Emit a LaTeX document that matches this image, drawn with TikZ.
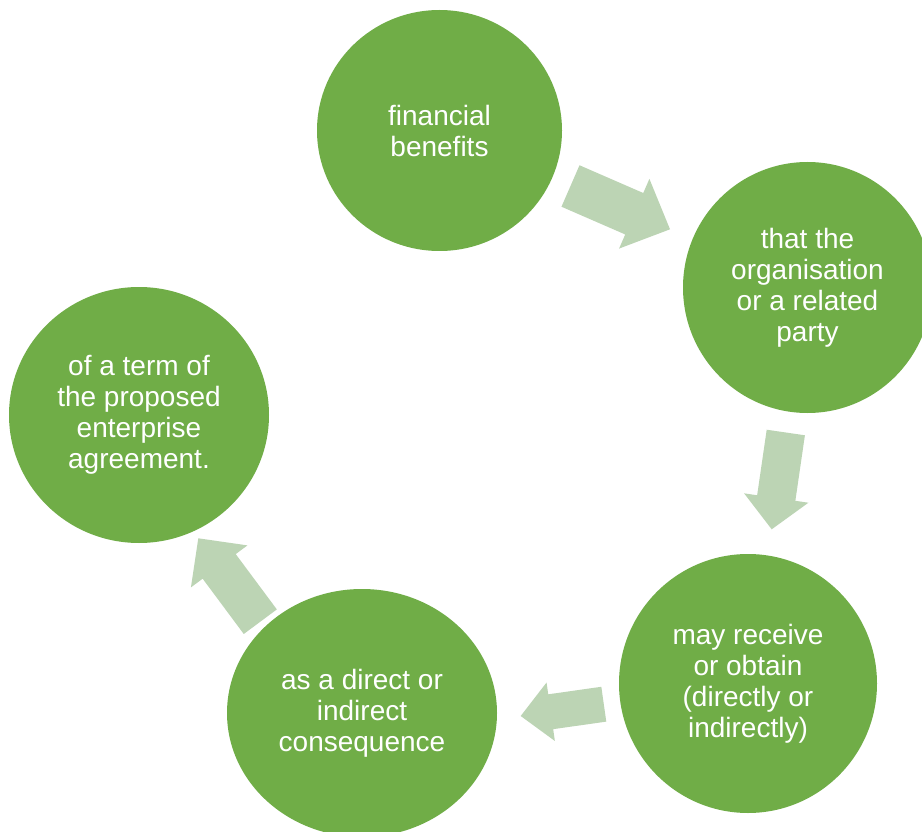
\documentclass[tikz,border=0pt]{standalone}
\usepackage{fontspec}
\setmainfont{Liberation Sans}
\usetikzlibrary{calc,shapes.geometric}
\definecolor{circgreen}{HTML}{70AD47}
\definecolor{arrgreen}{HTML}{BCD4B4}
\tikzset{
  circ/.style={ellipse, fill=circgreen, draw=none, inner sep=0pt, text=white,
    align=center, font=\fontsize{28}{31}\selectfont},
  arrowfill/.style={fill=arrgreen, draw=none}
}
% #1 tail, #2 tip, #3 half shaft width, #4 half head width, #5 head length
\newcommand\blockarrow[5]{%
  \coordinate (#1hb) at ($(#2)!#5pt!(#1)$);
  \fill[arrowfill] ($(#1)!#3pt!90:(#2)$) -- ($(#1hb)!#3pt!90:(#2)$)
    -- ($(#1hb)!#4pt!90:(#2)$) -- (#2) -- ($(#1hb)!#4pt!-90:(#2)$)
    -- ($(#1hb)!#3pt!-90:(#2)$) -- ($(#1)!#3pt!-90:(#2)$) -- cycle;
}
\begin{document}
\begin{tikzpicture}[x=1pt,y=-1pt]
\useasboundingbox (0,0) rectangle (922,832);
\clip (0,0) rectangle (922,832);
\fill[white] (0,0) rectangle (922,832);

\node[circ, minimum width=245pt, minimum height=241pt] (c1) at (439.5,130.5) {financial\\benefits};
\node[circ, minimum width=249pt, minimum height=251pt] (c2) at (807.5,287.5) {that the\\organisation\\or a related\\party};
\node[circ, minimum width=258pt, minimum height=259pt] (c3) at (748,683.5) {may receive\\or obtain\\(directly or\\indirectly)};
\node[circ, minimum width=270pt, minimum height=248pt] (c4) at (362,713) {as a direct or\\indirect\\consequence};
\node[circ, minimum width=260pt, minimum height=256pt] (c5) at (139,415) {of a term of\\the proposed\\enterprise\\agreement.};

\coordinate (a1t) at (570.5,186);
\coordinate (a1h) at (670,229.3);
\coordinate (a2t) at (785.8,432.5);
\coordinate (a2h) at (771.7,529.3);
\coordinate (a3t) at (603.8,704.2);
\coordinate (a3h) at (520.7,716);
\coordinate (a4t) at (260.3,621.7);
\coordinate (a4h) at (198.3,538.3);

\blockarrow{a1t}{a1h}{22.6}{38}{39}
\blockarrow{a2t}{a2h}{19.3}{32.5}{31.6}
\blockarrow{a3t}{a3h}{17.6}{29.5}{30.3}
\blockarrow{a4t}{a4h}{20.6}{35.2}{35}
\end{tikzpicture}
\end{document}
